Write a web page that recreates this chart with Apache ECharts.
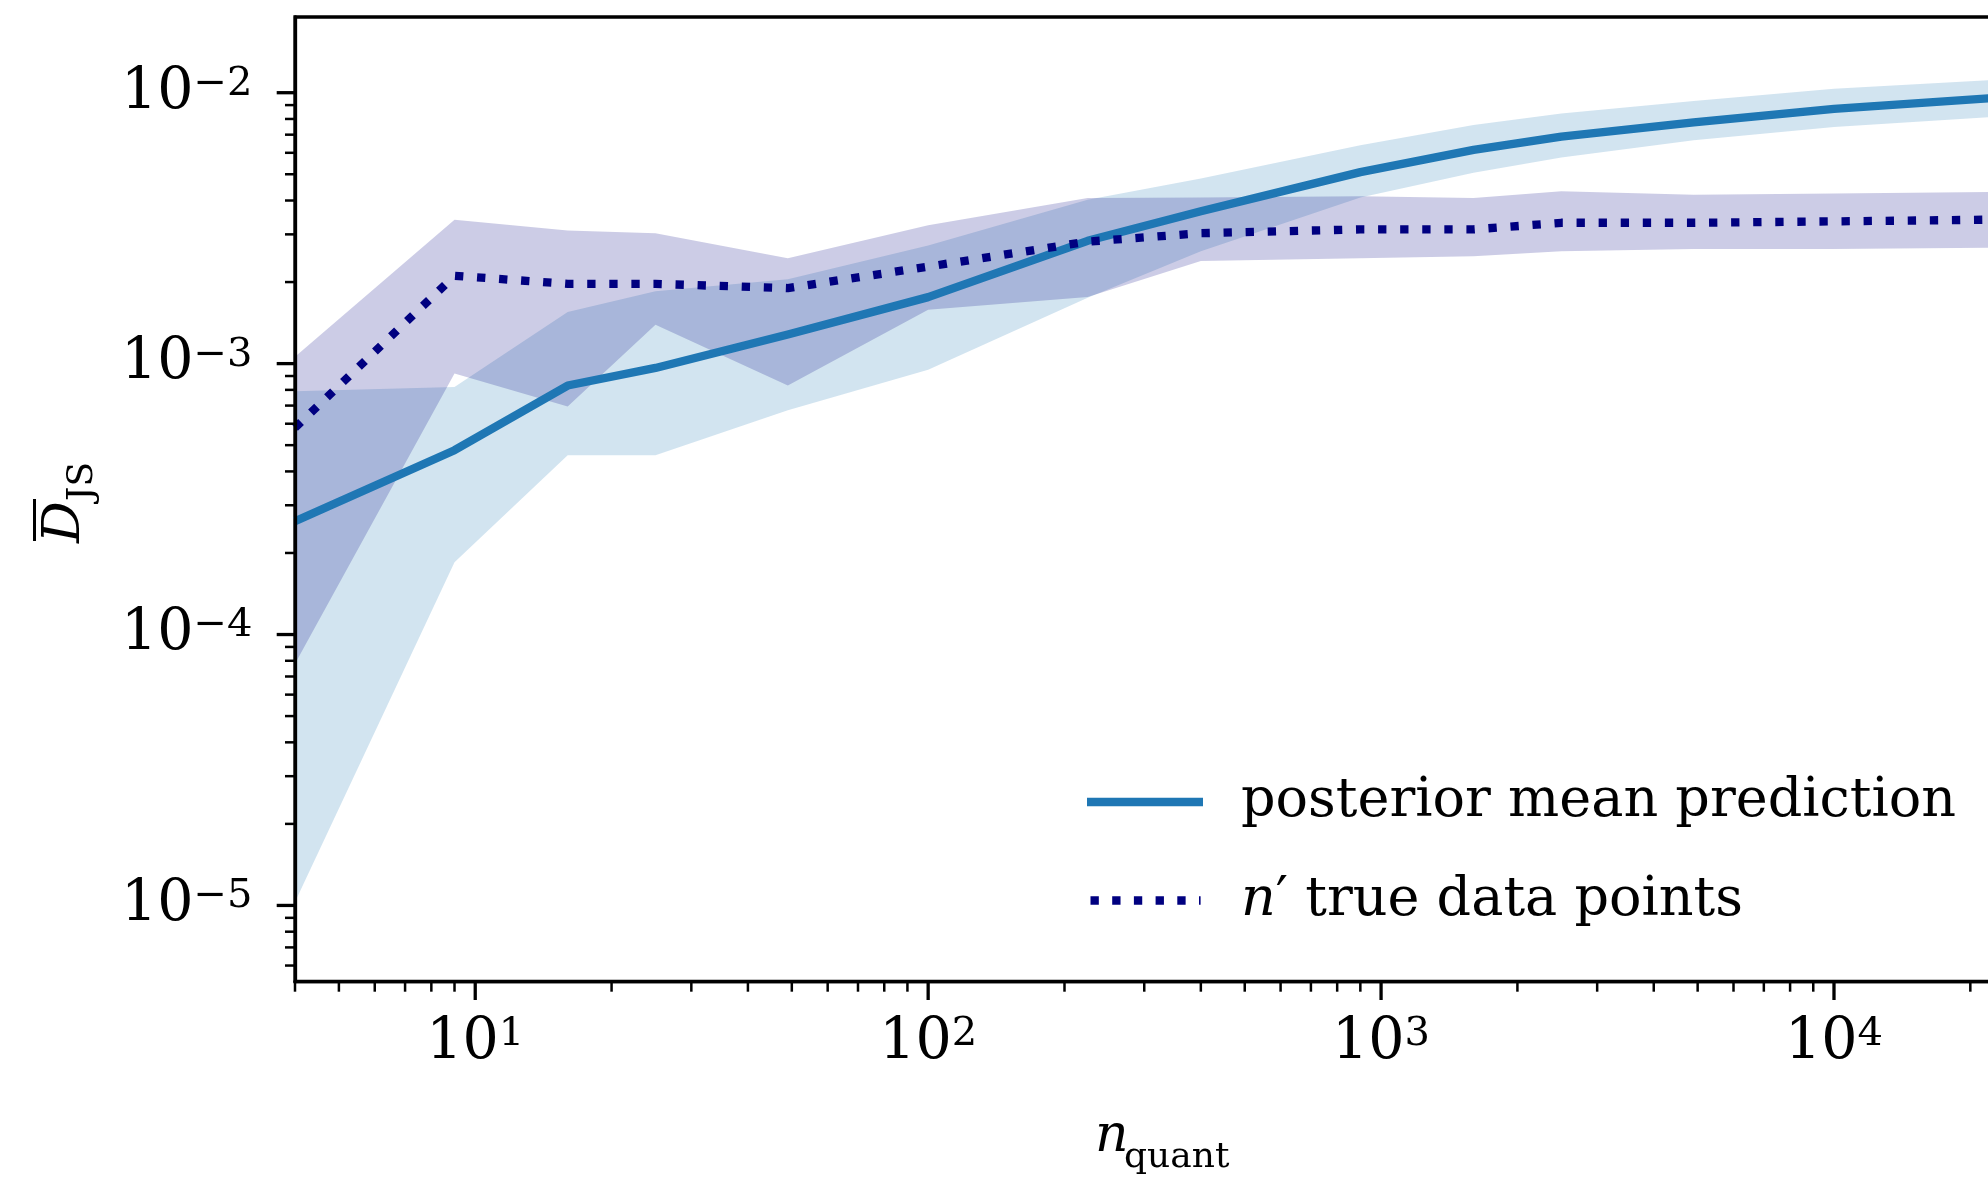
<!DOCTYPE html>
<html><head><meta charset="utf-8">
<script src="https://cdn.jsdelivr.net/npm/echarts@6/dist/echarts.min.js"></script>
<style>html,body{margin:0;padding:0;background:#fff}#c{width:1988px;height:1184px}</style>
</head><body><div id="c"></div>
<script>
// ---- data ----
const nQuant    = [4, 9, 16, 25, 49, 100, 225, 400, 900, 1600, 2500, 4900, 10000, 22500];
const postMean  = [2.62e-4, 4.79e-4, 8.3e-4, 9.64e-4, 1.28e-3, 1.76e-3, 2.84e-3, 3.65e-3, 5.09e-3, 6.15e-3, 6.89e-3, 7.77e-3, 8.71e-3, 9.56e-3];
const postLower = [1.03e-5, 1.85e-4, 4.59e-4, 4.59e-4, 6.73e-4, 9.5e-4, 1.75e-3, 2.6e-3, 4.1e-3, 5.06e-3, 5.77e-3, 6.67e-3, 7.47e-3, 8.15e-3];
const postUpper = [7.9e-4, 8.2e-4, 1.55e-3, 1.85e-3, 2.05e-3, 2.73e-3, 4.03e-3, 4.82e-3, 6.4e-3, 7.6e-3, 8.38e-3, 9.32e-3, 1.035e-2, 1.115e-2];
const trueMean  = [5.8e-4, 2.11e-3, 1.97e-3, 1.97e-3, 1.9e-3, 2.28e-3, 2.82e-3, 3.03e-3, 3.13e-3, 3.13e-3, 3.31e-3, 3.31e-3, 3.35e-3, 3.4e-3];
const trueLower = [7.8e-5, 9.2e-4, 6.95e-4, 1.39e-3, 8.3e-4, 1.58e-3, 1.76e-3, 2.39e-3, 2.45e-3, 2.49e-3, 2.6e-3, 2.65e-3, 2.65e-3, 2.68e-3];
const trueUpper = [1.06e-3, 3.4e-3, 3.1e-3, 3.03e-3, 2.45e-3, 3.24e-3, 4.09e-3, 4.1e-3, 4.15e-3, 4.09e-3, 4.33e-3, 4.2e-3, 4.25e-3, 4.3e-3];

const xLimits = [4, 22500];
const yLimits = [5.23e-6, 0.01903];
const xMajorTicks = [10, 100, 1000, 10000];
const xMinorTicks = [4, 5, 6, 7, 8, 9, 20, 30, 40, 50, 60, 70, 80, 90, 200, 300, 400, 500, 600, 700, 800, 900,
                     2000, 3000, 4000, 5000, 6000, 7000, 8000, 9000, 20000];
const yMajorTicks = [1e-5, 1e-4, 1e-3, 1e-2];
const yMinorTicks = [6e-6, 7e-6, 8e-6, 9e-6, 2e-5, 3e-5, 4e-5, 5e-5, 6e-5, 7e-5, 8e-5, 9e-5,
                     2e-4, 3e-4, 4e-4, 5e-4, 6e-4, 7e-4, 8e-4, 9e-4, 2e-3, 3e-3, 4e-3, 5e-3, 6e-3, 7e-3, 8e-3, 9e-3];
const seriesNames = ['posterior mean prediction', 'n\u2032 true data points'];

// ---- styles ----
const FONT = 'DejaVu Serif';
const C_POST = '#1f77b4', C_TRUE = '#000080';
const LW = 8.33;
// dotted legend handle: squares of side LW, period 21.7, anchored to a 116 x LW box
const DOT_ICON = 'path://M0,0L0,8.33Z M116,0L116,8.33Z ' +
  'M3.5,0h8.33v8.33h-8.33Z M25.2,0h8.33v8.33h-8.33Z M46.9,0h8.33v8.33h-8.33Z ' +
  'M68.6,0h8.33v8.33h-8.33Z M90.3,0h8.33v8.33h-8.33Z M112,0h1.6v8.33h-1.6Z';

const chart = echarts.init(document.getElementById('c'), null, {renderer: 'canvas'});

function pairs(xs, ys) { return xs.map((x, i) => [x, ys[i]]); }

function bandSeries(name, lower, upper, fill, z) {
  return {
    type: 'custom', name: name, silent: true, z: z, clip: false,
    data: nQuant.map((x, i) => [x, lower[i], upper[i]]),
    encode: {x: 0, y: [1, 2]},
    renderItem: function (params, api) {
      if (params.dataIndex !== 0) return null;
      const pts = [];
      for (let i = 0; i < nQuant.length; i++) pts.push(api.coord([nQuant[i], upper[i]]));
      for (let i = nQuant.length - 1; i >= 0; i--) pts.push(api.coord([nQuant[i], lower[i]]));
      return {type: 'polygon', shape: {points: pts}, style: {fill: fill, stroke: null}};
    }
  };
}

function tickSeries() {
  return {
    type: 'custom', name: 'ticks', silent: true, z: 30, clip: false,
    data: [[xLimits[0], yLimits[0]]],
    renderItem: function (params, api) {
      const cs = params.coordSys;
      const bottom = cs.y + cs.height, left = cs.x;
      const ch = [];
      const xt = (vals, len, w) => vals.forEach(v => {
        const px = api.coord([v, yLimits[0]])[0];
        ch.push({type: 'line', shape: {x1: px, y1: bottom, x2: px, y2: bottom + len}, style: {stroke: '#000', lineWidth: w}});
      });
      const yt = (vals, len, w) => vals.forEach(v => {
        const py = api.coord([xLimits[0], v])[1];
        ch.push({type: 'line', shape: {x1: left, y1: py, x2: left - len, y2: py}, style: {stroke: '#000', lineWidth: w}});
      });
      xt(xMinorTicks, 10, 2.5); xt(xMajorTicks, 18.3, 3.3);
      yt(yMinorTicks, 10, 2.5); yt(yMajorTicks, 18.3, 3.3);
      return {type: 'group', children: ch};
    }
  };
}

function powLabel(v) {
  const e = Math.log10(v), r = Math.round(e);
  if (Math.abs(e - r) > 1e-6) return '';
  return '{b|10}{e|' + (r < 0 ? '\u2212' + (-r) : String(r)) + '}';
}
const tickRich = {
  b: {fontFamily: FONT, fontSize: 57, lineHeight: 57, color: '#000'},
  e: {fontFamily: FONT, fontSize: 40, lineHeight: 26, verticalAlign: 'top', color: '#000'}
};

const option = {
  animation: false,
  backgroundColor: '#ffffff',
  grid: {left: 295, top: 17, right: -5.5, bottom: 202.3, containLabel: false, outerBoundsMode: 'none',
         show: true, borderColor: '#000', borderWidth: 3.3, backgroundColor: 'transparent'},
  xAxis: {
    type: 'log', logBase: 10, min: xLimits[0], max: xLimits[1], z: 10,
    axisLine: {show: true, onZero: false, lineStyle: {color: '#000', width: 3.3}},
    axisTick: {show: false}, minorTick: {show: false}, splitLine: {show: false},
    axisLabel: {show: true, interval: 0, margin: 32.5, formatter: powLabel, rich: tickRich}
  },
  yAxis: {
    type: 'log', logBase: 10, min: yLimits[0], max: yLimits[1], z: 10,
    axisLine: {show: true, onZero: false, lineStyle: {color: '#000', width: 3.3}},
    axisTick: {show: false}, minorTick: {show: false}, splitLine: {show: false},
    axisLabel: {show: true, interval: 0, margin: 42.5, formatter: powLabel, rich: tickRich}
  },
  legend: {
    orient: 'vertical', left: 1082, top: 770, padding: 5,
    itemWidth: 116, itemHeight: 8.33, itemGap: 44.5,
    symbolKeepAspect: true,
    itemStyle: {borderWidth: 0},
    data: [
      {name: seriesNames[0], icon: 'rect'},
      {name: seriesNames[1], icon: DOT_ICON}
    ],
    formatter: function (name) {
      if (name === seriesNames[1]) return '{i|n}{p|\u2032} true data points';
      return name;
    },
    textStyle: {
      fontFamily: FONT, fontSize: 54, color: '#000', padding: [0, 0, 0, 33],
      rich: {
        i: {fontFamily: FONT, fontSize: 54, fontStyle: 'italic', color: '#000'},
        p: {fontFamily: FONT, fontSize: 54, color: '#000'}
      }
    }
  },
  graphic: [
    {type: 'group', x: 83, y: 543, rotation: Math.PI / 2, silent: true, children: [
      {type: 'text', x: 0, y: -18, style: {text: 'D', font: 'italic 52px "DejaVu Serif"', fill: '#000', textAlign: 'left', textVerticalAlign: 'middle'}},
      {type: 'text', x: 42, y: 0, style: {text: 'JS', font: '36px "DejaVu Serif"', fill: '#000', textAlign: 'left', textVerticalAlign: 'middle'}},
      {type: 'rect', shape: {x: 2, y: -50, width: 42, height: 3}, style: {fill: '#000'}}
    ]},
    {type: 'text', x: 1095, y: 1137, silent: true, style: {text: 'n', font: 'italic 52px "DejaVu Serif"', fill: '#000', textAlign: 'left', textVerticalAlign: 'middle'}},
    {type: 'text', x: 1124, y: 1158, silent: true, style: {text: 'quant', font: '36px "DejaVu Serif"', fill: '#000', textAlign: 'left', textVerticalAlign: 'middle'}}
  ],
  series: [
    bandSeries('postBand', postLower, postUpper, 'rgba(31,119,180,0.2)', 1),
    bandSeries('trueBand', trueLower, trueUpper, 'rgba(0,0,128,0.2)', 1),
    {
      type: 'line', name: seriesNames[0], data: pairs(nQuant, postMean), z: 3,
      showSymbol: false, symbol: 'none', silent: true,
      lineStyle: {color: C_POST, width: LW, join: 'round', cap: 'butt'},
      itemStyle: {color: C_POST}
    },
    {
      type: 'line', name: seriesNames[1], data: pairs(nQuant, trueMean), z: 4,
      showSymbol: false, symbol: 'none', silent: true,
      lineStyle: {color: C_TRUE, width: LW, type: [LW, 13.75], cap: 'butt', join: 'round'},
      itemStyle: {color: C_TRUE}
    },
    tickSeries()
  ]
};
chart.setOption(option);
</script>
</body></html>
